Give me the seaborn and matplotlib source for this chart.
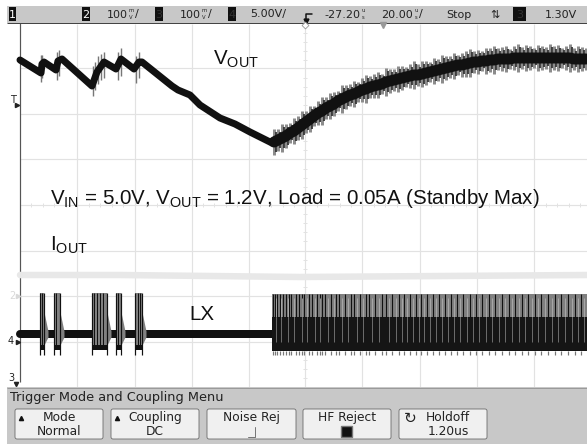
import numpy as np
import matplotlib
matplotlib.use("Agg")
import matplotlib.pyplot as plt
from matplotlib.patches import FancyBboxPatch, Rectangle
import seaborn as sns

# everything in pixels
grid_x = [77, 134.5, 191.5, 248.5, 305, 362, 420, 477, 534]
grid_y = [68.5, 114, 159.5, 205, 250.5, 296, 341.5]
tick_y = [33, 42, 51, 60, 78, 87, 96, 105, 123, 132, 141, 150, 169, 178, 187, 196, 214, 223, 232, 241,
          260, 269, 278, 287, 305, 314, 323, 332, 351, 360, 369, 378]
tick_x = [31, 43, 54, 66, 89, 100, 112, 123, 146, 157, 169, 180, 203, 214, 226, 237, 260, 271, 283, 294,
          317, 328, 340, 351, 374, 385, 397, 408, 431, 443, 454, 466, 489, 500, 511, 523, 546, 557, 569, 580]

vout_x = [20, 41, 42, 44, 56, 58, 62, 92, 97, 104, 116, 121, 134, 139, 142, 172, 178, 190, 200, 220, 235, 250, 272]
vout_y = [60, 73, 64, 62, 70, 61, 59, 86, 72, 62, 69, 59, 69, 62, 62, 86, 90, 95, 105, 118, 124, 132, 143]
spike_x = [41, 42, 57, 59, 93, 95, 98, 101, 104, 118, 121, 136, 139]
spike_top = [55, 55, 52, 50, 66, 62, 56, 54, 52, 52, 48, 56, 52]
spike_bot = [82, 78, 80, 76, 96, 90, 84, 80, 78, 80, 76, 83, 78]

ripple_x = [274, 278, 282, 286, 290, 294, 298, 302, 306, 310, 314, 318, 322, 326, 330, 334, 338, 342, 346, 350,
            354, 358, 362, 366, 370, 374, 378, 382, 386, 390, 394, 398, 402, 406, 410, 414, 418, 422, 426, 430,
            434, 438, 442, 446, 450, 454, 458, 462, 466, 470, 474, 478, 482, 486, 490, 494, 498, 502, 506, 510,
            514, 518, 522, 526, 530, 534, 538, 542, 546, 550, 554, 558, 562, 566, 570, 574, 578, 582, 586]
ripple_y = [142, 140, 138, 136, 133, 131, 128, 125, 122, 119, 116, 113, 111, 108, 106, 104, 101, 99, 97, 95,
            94, 92, 90, 89, 87, 86, 85, 84, 82, 81, 80, 79, 78, 77, 76, 75, 75, 74, 73, 72,
            71, 70, 69, 68, 67, 66, 65, 65, 64, 63, 62, 62, 61, 61, 60, 60, 59, 59, 59, 59,
            58, 58, 58, 58, 58, 58, 58, 58, 58, 58, 58, 58, 58, 58, 58, 59, 59, 59, 59]
ripple_half = [13, 11, 14, 12, 10, 13, 12, 14, 11, 13, 10, 12, 14, 11, 13, 12, 10, 14, 12, 11,
               13, 10, 12, 14, 11, 12, 13, 10, 14, 12, 11, 13, 12, 10, 12, 14, 11, 13, 12, 10,
               13, 11, 14, 12, 11, 13, 10, 12, 13, 14, 11, 12, 10, 13, 12, 14, 11, 12, 13, 10,
               12, 14, 11, 13, 12, 10, 13, 12, 11, 14, 12, 13, 10, 12, 14, 11, 13, 12, 11]

iout_x = [20, 120, 300, 587]
iout_y = [275, 275, 277, 275]

lx_x = [20, 170, 265, 272]
lx_y = [334, 334, 334, 334]
burst_start = [39.5, 54, 92, 116, 135]
burst_end = [44, 60, 107, 121, 142]
burst_gaps = [41.5, 56, 94, 97, 100, 103, 118, 137.5, 139.5]
lx_tall = [273, 275, 277, 280, 283, 286, 289, 291, 296, 299, 302, 304, 309, 312, 317, 320, 322, 325, 331, 336,
           339, 345, 351, 354, 360, 366, 369, 375, 382, 386, 392, 399, 404, 410, 416, 421, 427, 433, 439, 445,
           451, 457, 463, 470, 476, 482, 489, 495, 502, 509, 515, 522, 528, 535, 541, 548, 555, 561, 568, 575, 581]
lx_gaps = [276, 281, 288, 294, 302, 307, 315, 320, 328, 334, 342, 348, 357, 363, 372, 379, 389, 396,
           402, 407, 413, 419, 424, 430, 436, 442, 448, 454, 460, 467, 473, 479, 486, 492, 499, 505,
           512, 519, 525, 532, 538, 545, 552, 558, 565, 572, 578, 584]

buttons = [("Mode", "Normal"), ("Coupling", "DC"), ("Noise Rej", ""), ("HF Reject", ""), ("Holdoff", "1.20us")]
button_left = [15, 111, 207, 303, 399]
button_right = [103, 199, 296, 391, 487]

SCOPE = "DejaVu Sans"
LABEL = "Liberation Sans"

sns.set_theme(style="white")
plt.rcParams["mathtext.fontset"] = "custom"
plt.rcParams["mathtext.rm"] = LABEL
plt.rcParams["font.family"] = [SCOPE]

px = 0.72  # one pixel in points at dpi 100

fig = plt.figure(figsize=(5.87, 4.44), dpi=100)
ax = fig.add_axes([0, 0, 1, 1])
ax.set_xlim(0, 587)
ax.set_ylim(444, 0)
ax.axis("off")

# graticule
ax.vlines(grid_x, 24, 387, color="#e2e2e2", lw=1.2 * px, zorder=1)
ax.hlines(grid_y, 20, 587, color="#e2e2e2", lw=1.2 * px, zorder=1)
ax.hlines(tick_y, 303, 307, color="#e2e2e2", lw=1 * px, zorder=1)
ax.vlines(tick_x, 203, 207, color="#e2e2e2", lw=1 * px, zorder=1)
ax.vlines(19.5, 23, 382, color="#555555", lw=1.2 * px, zorder=2)

# IOUT, very faint on the scope
sns.lineplot(x=iout_x, y=iout_y, ax=ax, color="#e8e8e8", lw=6.5 * px, sort=False, errorbar=None, zorder=2)

# VOUT left part
ax.vlines(spike_x, spike_top, spike_bot, color="#777777", lw=1.4 * px, zorder=3)
sns.lineplot(x=vout_x, y=vout_y, ax=ax, color="#111111", lw=7 * px, sort=False, errorbar=None, zorder=4)

# VOUT right part, ripple teeth around a thick core
rx = np.array(ripple_x)
ry = np.array(ripple_y)
rh = np.array(ripple_half)
ax.vlines(rx, ry - rh, ry + rh, color="#8c8c8c", lw=3 * px, zorder=3)
ax.vlines(rx + 2, ry - rh * 0.75, ry + rh * 0.75, color="#333333", lw=1.8 * px, zorder=3)
sns.lineplot(x=ripple_x, y=ripple_y, ax=ax, color="#111111", lw=11 * px, sort=False, errorbar=None, zorder=4)

# LX left part
sns.lineplot(x=lx_x, y=lx_y, ax=ax, color="#111111", lw=8 * px, sort=False, errorbar=None, zorder=3)
for x0, x1 in zip(burst_start, burst_end):
    ax.fill_between([x0, x1], 293, 345, color="#808080", lw=0, zorder=4)
    ax.fill_between([x1, x1 + 4], [312, 331], [345, 337], color="#808080", lw=0, zorder=4)
    ax.fill_between([x0, x1], 345, 350, color="#111111", lw=0, zorder=4)
    ax.vlines([x0, x1 - 0.5], 293, 355, color="#111111", lw=1.2 * px, zorder=5)
ax.vlines(burst_gaps, 293, 345, color="#111111", lw=1 * px, zorder=5)

# LX right part
ax.fill_between([272, 587], 294, 317, color="#808080", lw=0, zorder=3)
ax.fill_between([272, 587], 317, 351, color="#151515", lw=0, zorder=3)
ax.vlines(lx_tall, 294, 317, color="#111111", lw=1.1 * px, zorder=4)
ax.vlines(lx_gaps, 298, 317, color="#b0b0b0", lw=0.8 * px, zorder=4)
ax.vlines(lx_gaps, 317, 342, color="#808080", lw=0.8 * px, zorder=4)
ax.vlines(lx_tall, 351, 355, color="#777777", lw=1.2 * px, zorder=4)

# top status bar and bottom menu
ax.add_patch(Rectangle((7, 6), 580, 17, fc="#c8c8c8", ec="none", zorder=6))
ax.hlines(23.5, 7, 587, color="#444444", lw=1 * px, zorder=6)
ax.add_patch(Rectangle((7, 387), 580, 57, fc="#c8c8c8", ec="none", zorder=6))
ax.hlines(387.5, 7, 587, color="#9a9a9a", lw=1 * px, zorder=7)


def chan_box(x0, x1, label, col):
    ax.add_patch(Rectangle((x0, 7), x1 - x0, 14, fc="#111111", ec="none", zorder=7))
    ax.text((x0 + x1) / 2, 14.5, label, color=col, fontsize=8, ha="center", va="center", zorder=8)


def bar_text(x, s, **kw):
    ax.text(x, 14.5, s, fontsize=8, color="#222222", ha="left", va="center", zorder=8, **kw)


def stacked(x, top, bottom):
    ax.text(x, 11, top, fontsize=3.8, color="#222222", ha="center", va="center", zorder=8)
    ax.text(x, 17.5, bottom, fontsize=3.8, color="#222222", ha="center", va="center", zorder=8)


chan_box(9, 16, "1", "white")
chan_box(82, 90, "2", "white")
chan_box(155, 163, "3", "#333333")
chan_box(228, 236, "4", "#333333")
chan_box(513, 526, "3", "#333333")
bar_text(107, "100")
stacked(131, "m", "V")
bar_text(135, "/")
bar_text(180, "100")
stacked(204, "m", "V")
bar_text(208, "/")
bar_text(250, "5.00V/")
bar_text(324, "-27.20")
stacked(363, "u", "s")
bar_text(381, "20.00")
stacked(416, "u", "s")
bar_text(419, "/")
bar_text(446, "Stop")
bar_text(490, "\u21c5")
bar_text(545, "1.30V")

# trigger edge icon and the little markers under the bar
ax.plot([312, 306, 306], [14, 14, 20], color="#111111", lw=1.5 * px, zorder=8)
ax.plot([306], [21], marker="v", ms=3.5, color="#111111", zorder=8)
ax.plot([305], [25.5], marker="D", ms=3.5, mfc="white", mec="#999999", mew=0.6, zorder=8)
ax.plot([383], [25], marker="v", ms=5, color="#999999", zorder=8)

# channel markers on the left
ax.text(13, 100, "T", fontsize=7, color="#222222", ha="center", va="center")
ax.plot([17], [105], marker=">", ms=3, color="#222222")
ax.text(12, 296, "2", fontsize=7, color="#d8d8d8", ha="center", va="center")
ax.plot([18], [296], marker=">", ms=3, color="#d8d8d8")
ax.text(11, 341, "4", fontsize=7, color="#222222", ha="center", va="center")
ax.plot([18], [342], marker=">", ms=3, color="#222222")
ax.text(11, 378, "3", fontsize=7, color="#222222", ha="center", va="center")
ax.plot([16], [384], marker="v", ms=3, color="#222222", zorder=8)

# menu
ax.text(10, 397.5, "Trigger Mode and Coupling Menu", fontsize=9.3, color="#222222", va="center", zorder=8)
for (line1, line2), x0, x1 in zip(buttons, button_left, button_right):
    ax.add_patch(FancyBboxPatch((x0 + 2, 411), x1 - x0 - 4, 26, boxstyle="round,pad=2", fc="#f0f0f0",
                                ec="#666666", lw=0.8 * px, zorder=7))
offs = [0, 0, 0, 0, 5]
for (line1, line2), x0, x1, off in zip(buttons, button_left, button_right, offs):
    cx = (x0 + x1) / 2 + off
    ax.text(cx, 417, line1, fontsize=8.8, color="#222222", ha="center", va="center", zorder=8)
    ax.text(cx, 431, line2, fontsize=8.8, color="#222222", ha="center", va="center", zorder=8)
ax.plot([21, 117], [418, 418], ls="none", marker="^", ms=3, color="#111111", zorder=8)
ax.plot([248, 255, 255], [437, 437, 427], color="#777777", lw=1 * px, zorder=8)
ax.add_patch(Rectangle((341, 426), 11, 11, fc="#111111", ec="#777777", lw=1, zorder=8))
ax.text(410, 418, "\u21bb", fontsize=11, color="#222222", ha="center", va="center", zorder=8)

# annotations typed on top of the screenshot
ax.text(213, 59, r"V$_{\mathrm{OUT}}$", fontsize=14.8, family=LABEL, color="#111111", va="center", zorder=9)
ax.text(50, 198, r"V$_{\mathrm{IN}}$ = 5.0V, V$_{\mathrm{OUT}}$ = 1.2V, Load = 0.05A (Standby Max)",
        fontsize=14.8, family=LABEL, color="#111111", va="center", zorder=9)
ax.text(50, 245, r"I$_{\mathrm{OUT}}$", fontsize=14.8, family=LABEL, color="#111111", va="center", zorder=9)
ax.text(189, 314, "LX", fontsize=14.8, family=LABEL, color="#111111", va="center", zorder=9)

fig.savefig("out.png", dpi=100, facecolor="white")
